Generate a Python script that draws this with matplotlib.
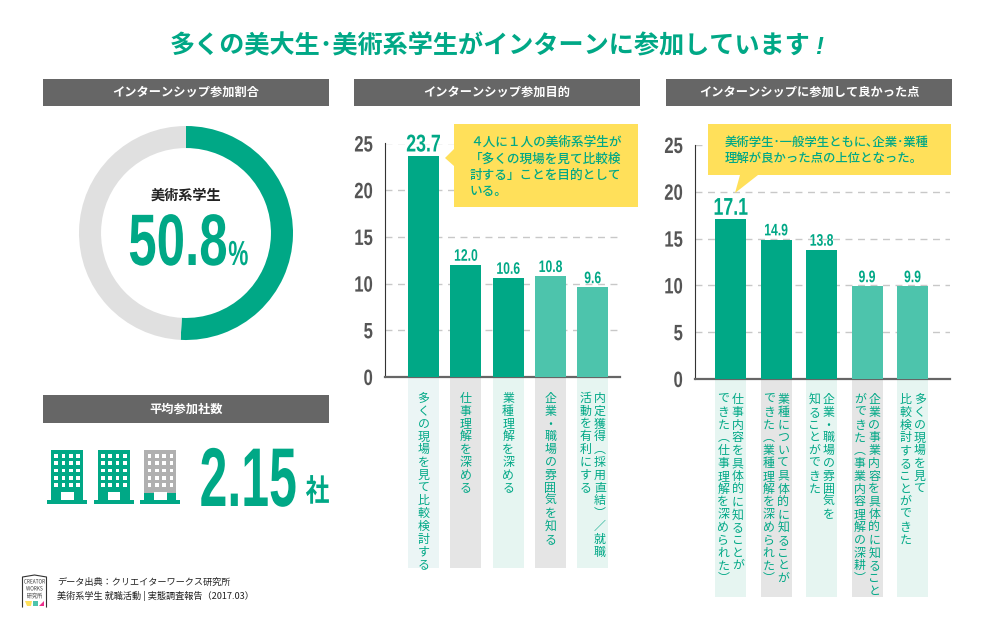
import matplotlib
matplotlib.use('Agg')
import matplotlib.pyplot as plt
import matplotlib.patheffects as pe
from matplotlib.patches import Rectangle, Polygon
from matplotlib.transforms import Affine2D

plt.rcParams['font.family'] = ['Noto Sans CJK JP', 'DejaVu Sans']

GREEN = '#00A886'
LIGHT = '#4DC4AC'
HEAD = '#666666'
YELLOW = '#FFE05A'
NUM = ['Liberation Sans', 'DejaVu Sans']

title = '多くの美大生･美術系学生がインターンに参加しています'
title_mark = '!'
headers = ['インターンシップ参加割合', 'インターンシップ参加目的', 'インターンシップに参加して良かった点', '平均参加社数']

share = [50.8, 49.2]
avg_companies = 2.15

purpose_values = [23.7, 12.0, 10.6, 10.8, 9.6]
purpose_labels = [['多くの現場を見て比較検討する'], ['仕事理解を深める'], ['業種理解を深める'],
                  ['企業・職場の雰囲気を知る'], ['内定獲得（採用直結）／就職', '活動を有利にする']]
purpose_note = ['４人に１人の美術系学生が', '「多くの現場を見て比較検', '討する」ことを目的として', 'いる。']

good_values = [17.1, 14.9, 13.8, 9.9, 9.9]
good_labels = [['仕事内容を具体的に知ることが', 'できた（仕事理解を深められた）'],
               ['業種について具体的に知ることが', 'できた（業種理解を深められた）'],
               ['企業・職場の雰囲気を', '知ることができた'],
               ['企業の事業内容を具体的に知ること', 'ができた（事業内容理解の深耕）'],
               ['多くの現場を見て', '比較検討することができた']]
good_note = ['美術学生･一般学生ともに､企業･業種', '理解が良かった点の上位となった。']

yticks = [0, 5, 10, 15, 20, 25]
source = ['データ出典：クリエイターワークス研究所', '美術系学生 就職活動 | 実態調査報告（2017.03）']

W, H = 1000, 628
fig = plt.figure(figsize=(W / 100, H / 100), dpi=100, facecolor='white')


class Squeeze(pe.AbstractPathEffect):
    # no condensed font is installed, so narrow the drawn glyphs of a normal Text
    def __init__(self, sx, anchor='center'):
        super().__init__()
        self.sx = sx
        self.anchor = anchor

    def draw_path(self, renderer, gc, tpath, affine, rgbFace=None):
        ext = tpath.transformed(affine).get_extents()
        x = {'left': ext.x0, 'right': ext.x1, 'center': (ext.x0 + ext.x1) / 2}[self.anchor]
        squeeze = Affine2D().translate(-x, 0).scale(self.sx, 1).translate(x, 0)
        renderer.draw_path(gc, tpath, affine + squeeze, rgbFace)


def px_axes(x0, y0, x1, y1):
    return fig.add_axes([x0 / W, 1 - y1 / H, (x1 - x0) / W, (y1 - y0) / H])


def vertical(s):
    s = s.replace('（', '︵').replace('）', '︶')
    return '\n'.join(s)


def bar_panel(box, first, pitch, values, labels, big, strip_end, strips, top_y):
    x0, y0, x1, y1 = box
    ax = px_axes(x0, y0, x1, y1)
    ax.set_facecolor('none')
    ax.set_xlim((x0 - first) / pitch, (x1 - first) / pitch)
    ax.set_ylim(0, 25)
    xs = list(range(len(values)))
    colors = [GREEN, GREEN, GREEN, LIGHT, LIGHT]
    ax.bar(xs, values, width=31 / pitch, color=colors, zorder=3)
    # strips under the axis, run past the axes on purpose
    depth = (strip_end - y1) * 25 / (y1 - y0)
    ax.bar(xs, [-depth] * len(xs), width=31 / pitch, color=strips, clip_on=False, zorder=1)
    for y in yticks[1:]:
        ax.axhline(y, color='#C8C8C8', lw=1, ls=(0, (5, 4)), zorder=1)
    for s in ['top', 'right']:
        ax.spines[s].set_visible(False)
    ax.spines['left'].set_color('#333333')
    ax.spines['bottom'].set_color(HEAD)
    ax.spines['bottom'].set_linewidth(1.6)
    ax.set_xticks([])
    ax.set_yticks(yticks)
    ax.set_yticklabels(yticks, family=NUM, weight='bold', fontsize=16, color='#555555')
    ax.tick_params(axis='y', length=0, pad=8.6)
    for t in ax.get_yticklabels():
        t.set_path_effects([Squeeze(0.75, 'right')])
    for x, v in zip(xs, values):
        size = 17.5 if v == big else 12
        ax.annotate(f'{v:.1f}', (x, v), xytext=(0, 3), textcoords='offset points', ha='center', va='baseline',
                    family=NUM, weight='bold', fontsize=size, color=GREEN, zorder=4,
                    path_effects=[Squeeze(0.73)])
    for x, cols in zip(xs, labels):
        offs = [0] if len(cols) == 1 else [7.2, -7.2]
        for c, off in zip(cols, offs):
            ax.annotate(vertical(c), (x, 0), xytext=(off * 0.72, -(top_y - y1) * 0.72), textcoords='offset points',
                        ha='center', va='top', fontsize=8.6, color=GREEN, linespacing=0.98, zorder=4,
                        annotation_clip=False)
    return ax


# donut
ax = px_axes(79, 126, 293, 340)
ax.pie(share, startangle=90, counterclock=False, colors=[GREEN, '#E0E0E0'], radius=1,
       wedgeprops={'width': 0.206})
ax.set_xlim(-1, 1)
ax.set_ylim(-1, 1)
ax.set_aspect('equal')

bar_panel((385, 143.5, 620, 377), 423.5, 42.3, purpose_values, purpose_labels, 23.7, 568,
          ['#EBF5F5', '#E5E5E5', '#E6F5F1', '#E5E5E5', '#E6F5F1'], 392)
bar_panel((695, 145, 950, 379), 730.5, 45.5, good_values, good_labels, 17.1, 597,
          ['#E6F5F1', '#E5E5E5', '#E6F5F1', '#E5E5E5', '#E6F5F1'], 393)

# overlay in pixel coordinates for the furniture
ov = px_axes(0, 0, W, H)
ov.set_xlim(0, W)
ov.set_ylim(H, 0)
ov.axis('off')
ov.patch.set_alpha(0)

ov.text(170, 46, title, ha='left', va='center', fontsize=18.1, weight='bold', color=GREEN)
ov.text(815, 54, title_mark, ha='left', va='baseline', family=NUM, style='italic', weight='bold', fontsize=17, color=GREEN)

head_boxes = [(43, 79, 286, 27), (354, 79, 286, 27), (666, 79, 286, 27), (43, 395, 286, 28)]
for (x, y, w, h), t in zip(head_boxes, headers):
    ov.add_patch(Rectangle((x, y), w, h, color=HEAD, lw=0))
    ov.text(x + w / 2, y + h / 2, t, ha='center', va='center', fontsize=8.8, weight='bold', color='white')

ov.text(186, 196, '美術系学生', ha='center', va='center', fontsize=10.2, weight='bold', color='#222222')
ov.text(228, 265, f'{share[0]:.1f}', ha='right', va='baseline', family=NUM, weight='bold', fontsize=52.5, color=GREEN,
        path_effects=[Squeeze(0.7, 'right')])
ov.text(228, 265, '%', ha='left', va='baseline', family=NUM, weight='bold', fontsize=25, color=GREEN,
        path_effects=[Squeeze(0.65, 'left')])

# callouts
ov.add_patch(Polygon([(454, 124), (638, 124), (638, 207), (454, 207), (454, 166), (445, 158), (454, 149)],
                     color=YELLOW, lw=0))
for y, t in zip([142, 159, 175, 192], purpose_note):
    ov.text(470, y, t, ha='left', va='center', fontsize=9.1, weight='medium', color=GREEN)
ov.add_patch(Polygon([(708, 124), (951, 124), (951, 175), (758, 175), (735, 193), (740, 175), (708, 175)],
                     color=YELLOW, lw=0))
for y, t in zip([142, 158], good_note):
    ov.text(725, y, t, ha='left', va='center', fontsize=8.9, weight='medium', color=GREEN)

# building icons, third one filled up to the fraction
for i in range(3):
    dx = 46.7 * i
    ov.add_patch(Rectangle((51 + dx, 450), 32, 50, color=GREEN if i < 2 else '#B0B0B0', lw=0))
    if i == 2:
        ov.add_patch(Rectangle((51 + dx, 380 + 338 / 3), 32, 500 - (380 + 338 / 3), color=GREEN, lw=0))
    ov.add_patch(Rectangle((47 + dx, 500), 40, 4, color=GREEN, lw=0))
    ov.add_patch(Rectangle((61 + dx, 492), 12.5, 8, color='white', lw=0))
    for r in range(5):
        for c in range(4):
            ov.add_patch(Rectangle((54.3 + dx + c * 7.3, 454 + r * 7.3), 3.7, 3.7, color='white', lw=0))

ov.text(298, 506, f'{avg_companies:.2f}', ha='right', va='baseline', family=NUM, weight='bold', fontsize=60, color=GREEN,
        path_effects=[Squeeze(0.6, 'right')])
ov.text(317.5, 492, '社', ha='center', va='center', fontsize=22, weight='bold', color=GREEN,
        path_effects=[Squeeze(0.78)])

# logo
ov.plot([22.5, 22.5, 34.5, 46.5, 46.5], [607, 577, 575, 577, 607], color='#333333', lw=0.8)
for y, t, s in [(582, 'CREATOR', 4.3), (589, 'WORKS', 4.3), (596, '研究所', 4.6)]:
    ov.text(34.5, y, t, ha='center', va='center', fontsize=s, color='#333333', path_effects=[Squeeze(0.8)])
ov.add_patch(Polygon([(25, 601), (32, 601), (31, 606), (27, 606)], color='#FFE05A', lw=0))
ov.add_patch(Polygon([(33, 601), (38, 601), (38, 606), (33, 606)], color='#4DC4AC', lw=0))
ov.add_patch(Polygon([(39, 606), (44, 601), (44, 606)], color='#EC2F8C', lw=0))

for y, t in zip([582, 596], source):
    ov.text(57, y, t, ha='left', va='center', fontsize=6.6, color='#222222')

fig.savefig('out.png', dpi=100)
